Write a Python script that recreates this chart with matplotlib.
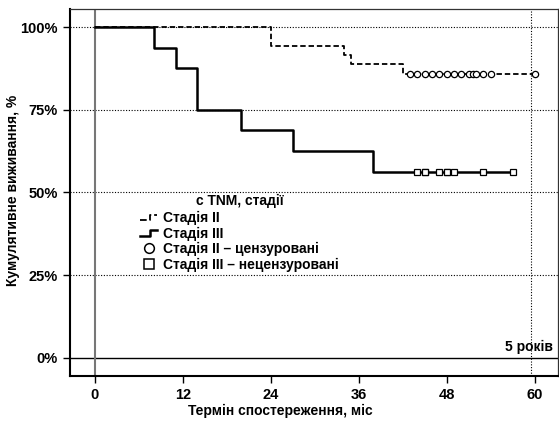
import matplotlib
matplotlib.use("Agg")
import matplotlib.pyplot as plt
from matplotlib.lines import Line2D
from matplotlib.legend_handler import HandlerBase

plt.rcParams['font.family'] = ['Liberation Sans', 'DejaVu Sans']
plt.rcParams['font.weight'] = 'bold'

# криві Каплана-Мейєра: моменти подій (міс) і рівень виживання (%)
t2 = [0, 24, 34, 35, 42, 60]
s2 = [100, 94.4, 91.6, 88.8, 85.9, 85.9]
t3 = [0, 8, 11, 14, 20, 27, 38, 57]
s3 = [100, 93.75, 87.5, 75.0, 68.75, 62.5, 56.25, 56.25]

# цензуровані спостереження
cens2 = [43, 44, 45, 46, 47, 48, 49, 50, 51, 51.6, 52, 53, 54, 60]
cens3 = [44, 45, 45, 47, 48, 48, 49, 53, 57]

xticks = [0, 12, 24, 36, 48, 60]
yticks = [0, 25, 50, 75, 100]
ylabels = ['0%', '25%', '50%', '75%', '100%']


class StepHandler(HandlerBase):
    # маленька сходинка замість прямої лінії в легенді
    def create_artists(self, legend, orig, xd, yd, w, h, fs, trans):
        xs = [xd, xd + w * 0.55, xd + w * 0.55, xd + w]
        ys = [yd + h * 0.2, yd + h * 0.2, yd + h * 0.75, yd + h * 0.75]
        ln = Line2D(xs, ys, color=orig.get_color(), lw=orig.get_linewidth(),
                    linestyle=orig.get_linestyle(), transform=trans)
        return [ln]


fig = plt.figure(figsize=(5.59, 4.24), dpi=100)
ax = fig.add_axes([0.1252, 0.114, 0.873, 0.865])

for y in yticks[1:]:
    ax.axhline(y, color='black', lw=0.8, ls=(0, (1, 1.5)), zorder=1)
ax.axhline(0, color='black', lw=1.0, zorder=1)
ax.axvline(0, color='#777777', lw=1.5, zorder=1)
ax.axvline(59.5, color='black', lw=0.8, ls=(0, (1, 1.5)), zorder=1)

l2, = ax.step(t2, s2, where='post', color='black', lw=1.3, ls=(0, (3, 1.6)), zorder=3)
l3, = ax.step(t3, s3, where='post', color='black', lw=1.8, zorder=3)

ax.plot(cens2, [s2[-1]] * len(cens2), ls='none', marker='o', ms=4.5,
        mfc='white', mec='black', mew=0.9, zorder=4)
ax.plot(cens3, [s3[-1]] * len(cens3), ls='none', marker='s', ms=4.5,
        mfc='white', mec='black', mew=0.9, zorder=4)

ax.set_xlim(-3.4, 63.2)
ax.set_ylim(-5.45, 105.5)
ax.set_xticks(xticks)
ax.set_yticks(yticks)
ax.set_yticklabels(ylabels)
ax.tick_params(axis='both', direction='out', length=5, width=1, labelsize=10.5, pad=4)
for s in ['left', 'bottom']:
    ax.spines[s].set_linewidth(1.5)
for s in ['top', 'right']:
    ax.spines[s].set_linewidth(0.9)
    ax.spines[s].set_color('#333333')

fig.text(280 / 559, 1 - 411 / 424, 'Термін спостереження, міс', fontsize=10,
         fontweight='bold', ha='center', va='center')
fig.text(13 / 559, 1 - 190 / 424, 'Кумулятивне виживання, %', fontsize=10,
         fontweight='bold', ha='center', va='center', rotation=90)

ax.text(62.5, 3.3, '5 років', fontsize=10, fontweight='bold', ha='right', va='center')

hc = Line2D([], [], ls='none', marker='o', ms=7, mfc='white', mec='black', mew=1.1)
hs = Line2D([], [], ls='none', marker='s', ms=7, mfc='white', mec='black', mew=1.1)
leg = ax.legend([l2, l3, hc, hs],
                ['Стадія II', 'Стадія III', 'Стадія II – цензуровані',
                 'Стадія III – нецензуровані'],
                title='с TNM, стадії', frameon=False, fontsize=10,
                title_fontproperties={'weight': 'bold', 'size': 10},
                handler_map={l2: StepHandler(), l3: StepHandler()},
                handlelength=1.2, handletextpad=0.4, labelspacing=0.1,
                loc='upper left', bbox_to_anchor=(0.13, 0.514), borderpad=0)
leg._legend_box.sep = 2
for t in leg.get_texts():
    t.set_fontweight('bold')

fig.savefig('out.png', dpi=100)
